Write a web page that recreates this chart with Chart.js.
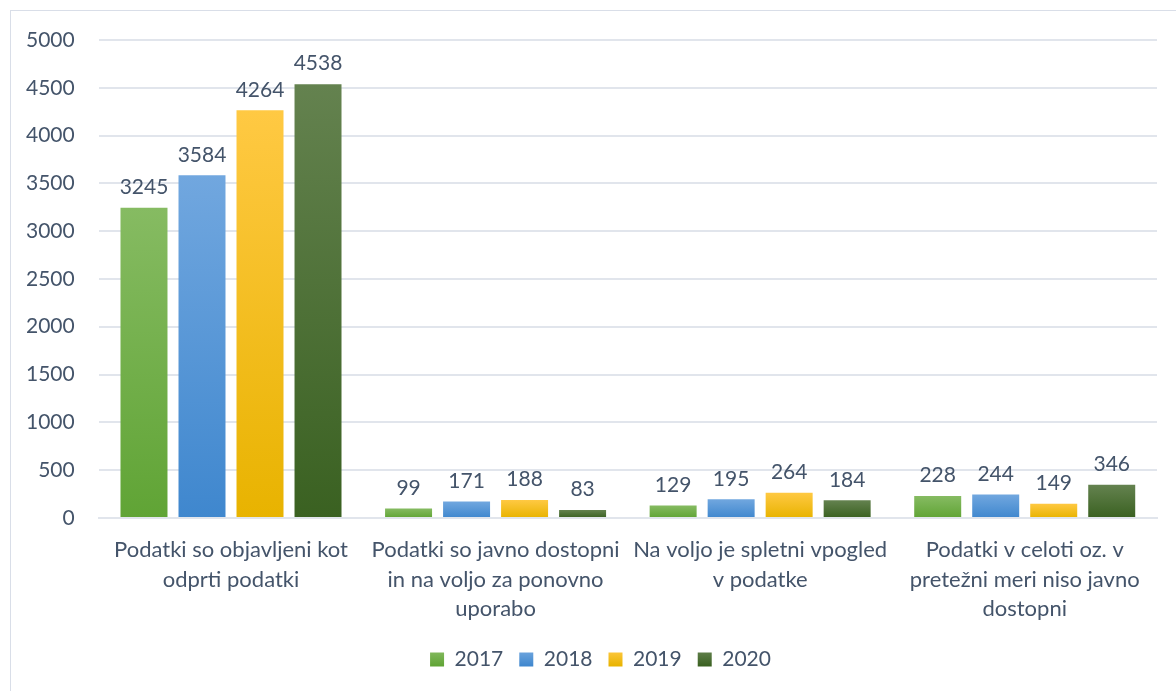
<!DOCTYPE html>
<html>
<head>
<meta charset="utf-8">
<script src="https://cdn.jsdelivr.net/npm/chart.js@4/dist/chart.umd.min.js"></script>
<style>
  html, body { margin: 0; padding: 0; background: #fff; overflow: hidden; }
  #frame {
    position: absolute; left: 10px; top: 10px;
    width: 1200px; height: 720px;
    border: 1px solid #D9DEE8;
  }
  #wrap { position: absolute; left: 0; top: 0; width: 1176px; height: 691px; }
</style>
</head>
<body>
<div id="frame"></div>
<div id="wrap"><canvas id="chart" width="1176" height="691"></canvas></div>
<script>
// kategorije (razbite v vrstice kot na sliki)
const categories = [
    ['Podatki so objavljeni kot', 'odprti podatki'],
    ['Podatki so javno dostopni', 'in na voljo za ponovno', 'uporabo'],
    ['Na voljo je spletni vpogled', 'v podatke'],
    ['Podatki v celoti oz. v', 'pretežni meri niso javno', 'dostopni']
];
const years = ['2017', '2018', '2019', '2020'];

// vrednosti po letih
const values2017 = [3245, 99, 129, 228];
const values2018 = [3584, 171, 195, 244];
const values2019 = [4264, 188, 264, 149];
const values2020 = [4538, 83, 184, 346];

// barve: [zgoraj, spodaj]
const colors2017 = ['#86BB62', '#60A435'];
const colors2018 = ['#71A7DF', '#3F87CE'];
const colors2019 = ['#FFC943', '#E8B300'];
const colors2020 = ['#64824F', '#3A6121'];

const textColor = '#44546A';
const gridColor = '#E1E5EC';
const fontFamily = 'Lato, "Open Sans", sans-serif';

// gradient za posamezen stolpec
function barGradient(colors) {
    return function(context) {
        const chart = context.chart;
        if (!chart.chartArea || context.raw === undefined) return colors[1];
        const y = chart.scales.y;
        const top = y.getPixelForValue(context.raw);
        const bottom = y.getPixelForValue(0);
        if (!isFinite(top) || bottom - top < 1) return colors[1];
        const g = chart.ctx.createLinearGradient(0, top, 0, bottom);
        g.addColorStop(0, colors[0]);
        g.addColorStop(1, colors[1]);
        return g;
    };
}

// oznake vrednosti nad stolpci
const valueLabels = {
    id: 'valueLabels',
    afterDatasetsDraw(chart) {
        const ctx = chart.ctx;
        ctx.save();
        ctx.fillStyle = textColor;
        ctx.font = '21px ' + fontFamily;
        ctx.textAlign = 'center';
        ctx.textBaseline = 'bottom';
        chart.data.datasets.forEach((ds, i) => {
            const meta = chart.getDatasetMeta(i);
            meta.data.forEach((bar, j) => {
                ctx.fillText(ds.data[j], bar.x, bar.y - 10);
            });
        });
        ctx.restore();
    }
};

// legenda je v izvirniku centrirana glede na celotno sliko
const legendShift = {
    id: 'legendShift',
    afterLayout(chart) {
        if (chart.legend) {
            chart.legend.left += 21;
            chart.legend.right += 21;
        }
    }
};

function makeDataset(label, data, colors) {
    return {
        label: label,
        data: data,
        backgroundColor: barGradient(colors),
        borderWidth: 0,
        barPercentage: 0.81,
        categoryPercentage: 0.877
    };
}

const chart = new Chart(document.getElementById('chart'), {
    type: 'bar',
    data: {
        labels: categories,
        datasets: [
            makeDataset(years[0], values2017, colors2017),
            makeDataset(years[1], values2018, colors2018),
            makeDataset(years[2], values2019, colors2019),
            makeDataset(years[3], values2020, colors2020)
        ]
    },
    options: {
        responsive: false,
        animation: false,
        layout: {
            padding: { left: 2, right: 19, top: 40, bottom: 11 }
        },
        plugins: {
            legend: {
                position: 'bottom',
                labels: {
                    color: textColor,
                    font: { family: fontFamily, size: 21 },
                    boxWidth: 14,
                    boxHeight: 14,
                    padding: 16,
                    generateLabels(chart) {
                        const list = [colors2017, colors2018, colors2019, colors2020];
                        return chart.data.datasets.map((ds, i) => {
                            const g = chart.ctx.createLinearGradient(0, 650, 0, 666);
                            g.addColorStop(0, list[i][0]);
                            g.addColorStop(1, list[i][1]);
                            return {
                                text: ds.label,
                                fillStyle: g,
                                strokeStyle: 'rgba(0,0,0,0)',
                                lineWidth: 0,
                                fontColor: textColor,
                                datasetIndex: i
                            };
                        });
                    }
                }
            },
            tooltip: { enabled: false }
        },
        scales: {
            x: {
                grid: { display: false },
                border: { display: true, color: gridColor, width: 2 },
                ticks: {
                    color: textColor,
                    font: { family: fontFamily, size: 22, lineHeight: 1.32 },
                    maxRotation: 0,
                    autoSkip: false,
                    padding: 10
                }
            },
            y: {
                min: 0,
                max: 5000,
                grid: { color: gridColor, lineWidth: 2, drawTicks: false },
                border: { display: false },
                ticks: {
                    stepSize: 500,
                    color: textColor,
                    font: { family: fontFamily, size: 21 },
                    padding: 24,
                    callback: value => String(value)
                }
            }
        }
    },
    plugins: [valueLabels, legendShift]
});
</script>
</body>
</html>
